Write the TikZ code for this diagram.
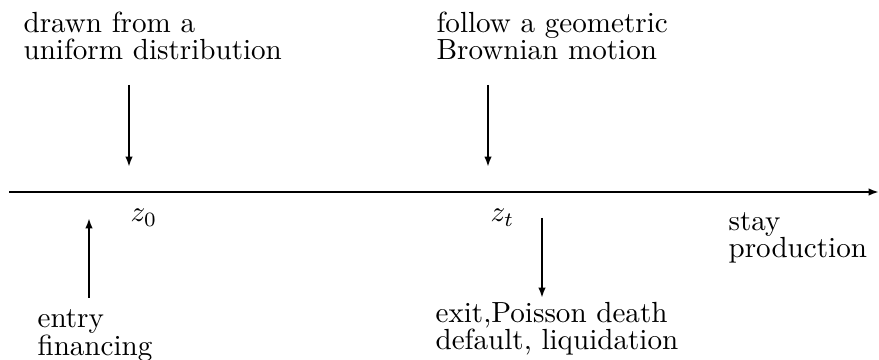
\documentclass[tikz,border=0pt]{standalone}
\usetikzlibrary{arrows.meta}
\tikzset{
  lbl/.style={anchor=base west,inner sep=0pt,align=left,font=\fontsize{10}{9.3}\selectfont},
  flow/.style={-{Latex[length=3.6pt,width=2.6pt]},line width=0.7pt},
}
\begin{document}
\begin{tikzpicture}[x=0.3436pt,y=-0.3436pt]
  \useasboundingbox (0,0) rectangle (879,360);
  % time axis
  \coordinate (axisl) at (9,192);
  \coordinate (axisr) at (879,192);
  \draw[flow,line width=0.9pt] (axisl) -- (axisr);
  % labels (base = last line)
  \node[lbl] (uniform) at (23,60) {drawn from a\\uniform distribution};
  \node[lbl] (gbm) at (436,60) {follow a geometric\\Brownian motion};
  \node[lbl] (entry) at (37,355) {entry\\financing};
  \node[lbl] (exit) at (435,350) {exit,Poisson death\\default, liquidation};
  \node[lbl] (stay) at (728,258) {stay\\production};
  \node[lbl] (zzero) at (130,222) {$z_0$};
  \node[lbl] (zt) at (490,222) {$z_t$};
  % arrows
  \coordinate (ua) at (129,85);  \coordinate (ub) at (129,167);
  \coordinate (ga) at (488,85);  \coordinate (gb) at (488,167);
  \coordinate (ea) at (89,298);  \coordinate (eb) at (89,218);
  \coordinate (xa) at (542,218); \coordinate (xb) at (542,298);
  \draw[flow] (ua) -- (ub);
  \draw[flow] (ga) -- (gb);
  \draw[flow] (ea) -- (eb);
  \draw[flow] (xa) -- (xb);
\end{tikzpicture}
\end{document}
